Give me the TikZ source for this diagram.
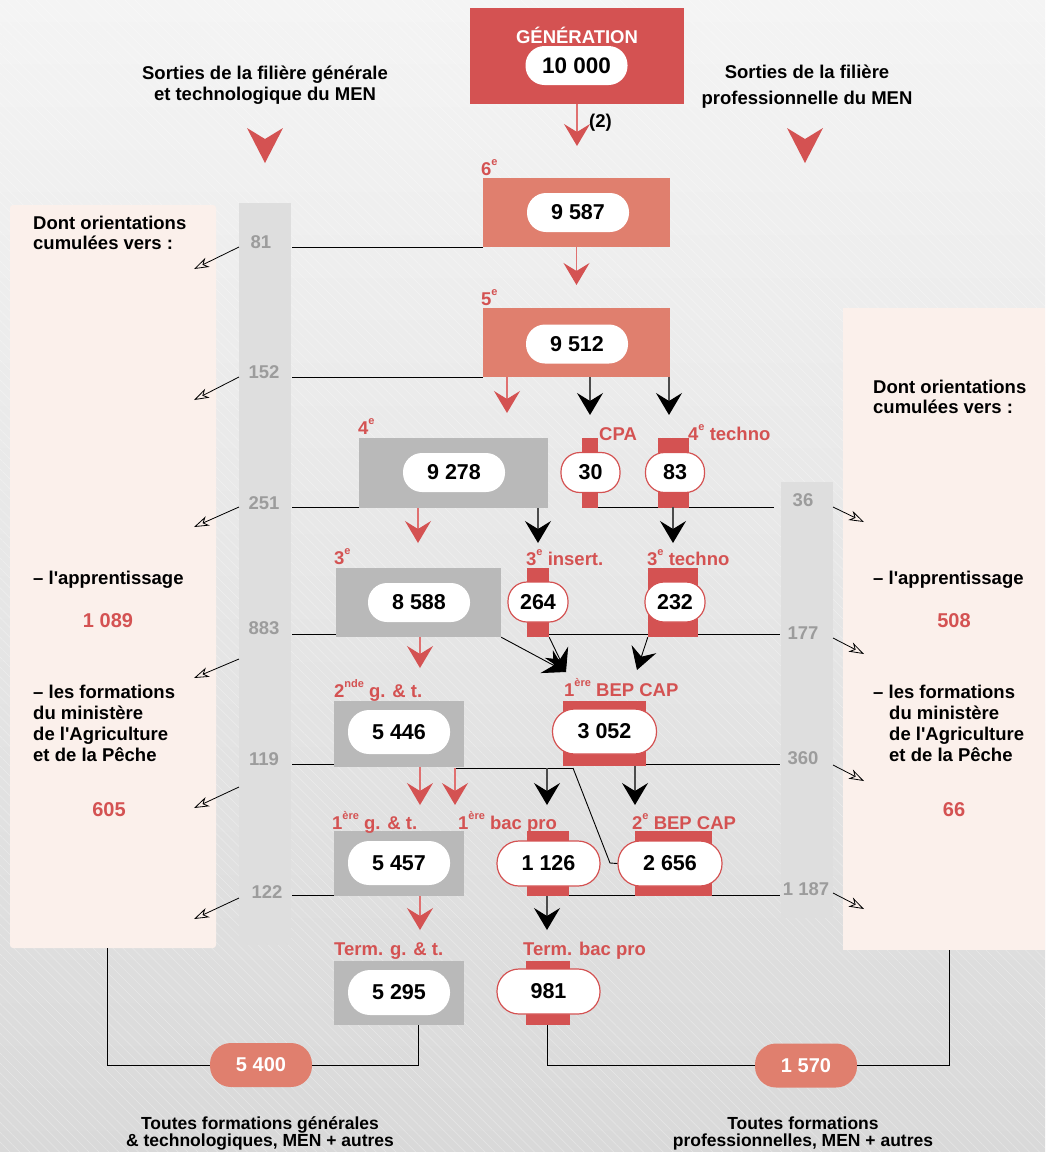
\documentclass[tikz,border=0pt]{standalone}
\usepackage{fontspec}
\setmainfont{Liberation Sans}[Ligatures=TeXOff]
\usetikzlibrary{arrows.meta,patterns.meta}
\definecolor{rouge}{HTML}{D45252}
\definecolor{rougeclair}{HTML}{E07070}
\definecolor{saumon}{HTML}{E07F6E}
\definecolor{grisbox}{HTML}{B9B9B9}
\definecolor{griscol}{HTML}{DEDEDE}
\definecolor{grisnum}{HTML}{9C9C9C}
\definecolor{rose}{HTML}{FBF0EB}
\definecolor{bgtop}{HTML}{F4F4F4}
\definecolor{bgbot}{HTML}{D9D9D9}
\newcommand\supx[1]{\raisebox{0.5em}{\fontsize{11}{11}\selectfont #1}}
\begin{document}
\begin{tikzpicture}[x=1pt,y=-1pt,
  txt/.style={font=\bfseries\fontsize{18.5}{20.5}\selectfont, inner sep=0pt},
  num/.style={font=\bfseries\fontsize{21.5}{24}\selectfont},
  rbox/.style={fill=#1, inner sep=0pt, draw=none},
  pillw/.style={fill=white, rounded corners=19pt, inner sep=0pt, num, minimum width=102pt, minimum height=39pt},
  pillr/.style={pillw, draw=rouge, line width=1.2pt},
  lab/.style={txt, text=rouge, anchor=base west},
  gnum/.style={txt, text=grisnum},
  rval/.style={font=\bfseries\fontsize{20}{24}\selectfont, text=rouge, inner sep=0pt},
  thinl/.style={draw=black, line width=0.9pt},
  arrR/.style={draw=rougeclair, line width=1.3pt, -{Stealth[length=22pt, width=26pt, inset=8pt, color=rouge]}},
  arrB/.style={draw=black!70, line width=1.3pt, -{Stealth[length=22pt, width=26pt, inset=8pt, color=black]}},
  orient/.style={draw=black, line width=0.8pt, -{Stealth[open, length=15pt, width=10pt, inset=4.5pt]}},
  sumpill/.style={fill=saumon, rounded corners=21pt, inner sep=0pt, minimum width=102pt, minimum height=44pt, text=white, font=\bfseries\fontsize{20}{24}\selectfont},
  foot/.style={txt, font=\bfseries\fontsize{17.5}{17}\selectfont},
]
\useasboundingbox (0,0) rectangle (1045,1152);
% background
\shade[shading angle=-45, top color=bgtop, bottom color=bgbot] (0,0) rectangle (1045,1152);
\fill[pattern={Lines[angle=-45,distance=7pt,line width=0.5pt]}, pattern color=white, opacity=0.35] (0,0) rectangle (1045,1152);

% side panels and columns
\fill[rose, rounded corners=3pt] (10,205) rectangle (216,948);
\fill[rose] (843,308) rectangle (1045,950);
\fill[griscol] (239,203) rectangle (291,945);
\fill[griscol] (781,482) rectangle (833,918);

% headers
\node[txt, align=center] (hl) at (265,85) {Sorties de la filière générale\\et technologique du MEN};
\node[txt, align=center, font=\bfseries\fontsize{18.5}{26}\selectfont] (hr) at (807,87) {Sorties de la filière\\professionnelle du MEN};
\fill[rouge] (247,128) -- (265,139) -- (283,128) -- (265,163) -- cycle;
\fill[rouge] (787,128) -- (805,139) -- (823,128) -- (805,163) -- cycle;

% panel texts
\node[txt, align=left, anchor=north west] (dl) at (33,215.5) {Dont orientations\\cumulées vers :};
\node[txt, align=left, anchor=north west] (dr) at (873,379.5) {Dont orientations\\cumulées vers :};
\node[txt, anchor=north west] (al) at (33,570.5) {– l'apprentissage};
\node[txt, anchor=north west] (ar) at (873,570.5) {– l'apprentissage};
\node[rval] (v1089) at (108,621) {1 089};
\node[rval] (v508) at (954,621) {508};
\node[txt, align=left, anchor=north west, font=\bfseries\fontsize{18.5}{21}\selectfont] (fl) at (33,684.5) {– les formations\\du ministère\\de l'Agriculture\\et de la Pêche};
\node[txt, align=left, anchor=north west, font=\bfseries\fontsize{18.5}{21}\selectfont] (fr) at (873,685) {– les formations\\\hspace*{16pt}du ministère\\\hspace*{16pt}de l'Agriculture\\\hspace*{16pt}et de la Pêche};
\node[rval] (v605) at (109,810) {605};
\node[rval] (v66) at (954,810) {66};

% column numbers
\node[gnum] (g81) at (261,242) {81};
\node[gnum] (g152) at (264,372) {152};
\node[gnum] (g251) at (264,503) {251};
\node[gnum] (g883) at (264,628) {883};
\node[gnum] (g119) at (264,759) {119};
\node[gnum] (g122) at (267,892) {122};
\node[gnum] (g36) at (803,500) {36};
\node[gnum] (g177) at (803,633) {177};
\node[gnum] (g360) at (803,758) {360};
\node[gnum] (g1187) at (806,889) {1 187};

% orientation arrows
\draw[orient] (239,247) -- (194,269);
\draw[orient] (239,377) -- (194,400);
\draw[orient] (239,507) -- (194,527);
\draw[orient] (239,659) -- (194,678);
\draw[orient] (239,787) -- (194,808);
\draw[orient] (239,898) -- (194,919);
\draw[orient] (833,507) -- (864,522);
\draw[orient] (833,638) -- (864,654);
\draw[orient] (833,765) -- (864,781);
\draw[orient] (833,893) -- (864,909);

% horizontal exit lines
\draw[thinl] (292,247) -- (483,247);
\draw[thinl] (292,377) -- (483,377);
\draw[thinl] (292,507) -- (359,507);
\draw[thinl] (598,507) -- (774,507);
\draw[thinl] (292,634) -- (336,634);
\draw[thinl] (549,634) -- (780,634);
\draw[thinl] (292,764) -- (334,764);
\draw[thinl] (646,764) -- (780,764);
\draw[thinl] (292,895) -- (334,895);
\draw[thinl] (569,895) -- (780,895);

% boxes
\node[rbox=rouge, minimum width=214pt, minimum height=96pt] (gen) at (577,56) {};
\node[txt, text=white] (gentxt) at (577,35) {GÉNÉRATION};
\node[pillw, font=\bfseries\fontsize{22.5}{24}\selectfont] (p10000) at (576.5,65.5) {10 000};

\node[rbox=saumon, minimum width=187pt, minimum height=69pt] (b6) at (576.5,212.5) {};
\node[pillw] (p9587) at (578,212.5) {9 587};
\node[lab] (l6) at (481,175) {6\supx{e}};

\node[rbox=saumon, minimum width=187pt, minimum height=69pt] (b5) at (576.5,342.5) {};
\node[pillw] (p9512) at (577,344) {9 512};
\node[lab] (l5) at (481,305) {5\supx{e}};

\node[rbox=grisbox, minimum width=189pt, minimum height=70pt] (b4) at (453.5,473) {};
\node[pillw] (p9278) at (454,472.5) {9 278};
\node[lab] (l4) at (358,434) {4\supx{e}};

\node[rbox=rouge, minimum width=16pt, minimum height=70pt] (bcpa) at (590,473) {};
\node[pillr, minimum width=59pt, minimum height=40pt] (p30) at (590.5,472.5) {30};
\node[lab] (lcpa) at (599,440) {CPA};

\node[rbox=rouge, minimum width=31pt, minimum height=70pt] (b4t) at (673.5,473) {};
\node[pillr, minimum width=59pt, minimum height=40pt] (p83) at (675,472.5) {83};
\node[lab] (l4t) at (688,440) {4\supx{e} techno};

\node[rbox=grisbox, minimum width=165pt, minimum height=69pt] (b3) at (418.5,602.5) {};
\node[pillw] (p8588) at (419,602.5) {8 588};
\node[lab] (l3) at (334,564) {3\supx{e}};

\node[rbox=rouge, minimum width=22pt, minimum height=69pt] (b3i) at (538,602.5) {};
\node[pillr, minimum width=60pt, minimum height=40pt] (p264) at (538,602) {264};
\node[lab] (l3i) at (526,565) {3\supx{e} insert.};

\node[rbox=rouge, minimum width=50pt, minimum height=69pt] (b3t) at (673,602.5) {};
\node[pillr, minimum width=60pt, minimum height=40pt] (p232) at (675,602) {232};
\node[lab] (l3t) at (647,565) {3\supx{e} techno};

\node[rbox=grisbox, minimum width=130pt, minimum height=66pt] (b2) at (399,734) {};
\node[pillw, minimum height=44pt, rounded corners=21pt] (p5446) at (399,732) {5 446};
\node[lab] (l2) at (334,697) {2\supx{nde} g. \& t.};

\node[rbox=rouge, minimum width=83pt, minimum height=65pt] (bbep1) at (604.5,733.5) {};
\node[pillr, minimum width=104pt, minimum height=45pt, rounded corners=22pt] (p3052) at (604.5,731.5) {3 052};
\node[lab] (lbep1) at (564,696) {1\supx{ère} BEP CAP};

\node[rbox=grisbox, minimum width=130pt, minimum height=65pt] (b1g) at (399,863.5) {};
\node[pillw, minimum height=44pt, rounded corners=21pt] (p5457) at (399,863) {5 457};
\node[lab] (l1g) at (332,829) {1\supx{ère} g. \& t.};

\node[rbox=rouge, minimum width=42pt, minimum height=65pt] (bpro1) at (548,863.5) {};
\node[pillr, minimum width=103pt, minimum height=45pt, rounded corners=22pt] (p1126) at (548.5,863.5) {1 126};
\node[lab] (lpro1) at (458,829) {1\supx{ère} bac pro};

\node[rbox=rouge, minimum width=77pt, minimum height=65pt] (bbep2) at (673.5,863.5) {};
\node[pillr, minimum width=104pt, minimum height=45pt, rounded corners=22pt] (p2656) at (670,863.5) {2 656};
\node[lab] (lbep2) at (632,829) {2\supx{e} BEP CAP};

\node[rbox=grisbox, minimum width=130pt, minimum height=64pt] (btg) at (399,993) {};
\node[pillw, minimum height=45pt, rounded corners=22pt] (p5295) at (399,992.5) {5 295};
\node[lab] (ltg) at (334,955) {Term. g. \& t.};

\node[rbox=rouge, minimum width=44pt, minimum height=64pt] (btp) at (548,993) {};
\node[pillr, minimum width=103pt, minimum height=45pt, rounded corners=22pt] (p981) at (548.5,991.5) {981};
\node[lab] (ltp) at (523,955) {Term. bac pro};

% flow arrows
\draw[arrR] (gen.south) -- (577,146);
\node[txt, anchor=west] (n2) at (589,123) {(2)};
\draw[arrR] (b6.south) -- (576.5,285);
\draw[arrR] (507,377) -- (507,413);
\draw[arrB] (590,377) -- (590,415);
\draw[arrB] (669,377) -- (669,415);
\draw[arrR] (418,508) -- (418,543);
\draw[arrB] (538,508) -- (538,543);
\draw[arrB] (673,507) -- (673,543);
\draw[arrR] (420,637) -- (420,668);
\draw[thinl, -{Stealth[length=22pt, width=26pt, inset=8pt]}] (b3.south east) -- (566,672);
\draw[thinl, -{Stealth[length=22pt, width=26pt, inset=8pt]}] (b3i.south east) -- (566,672);
\draw[thinl, -{Stealth[length=22pt, width=26pt, inset=8pt]}] (b3t.south west) -- (637,670);
\draw[arrR] (420,767) -- (420,805);
\draw[thinl] (573,768) -- (455,768);
\draw[arrR] (455,768) -- (455,805);
\draw[arrB] (547,768) -- (547,805);
\draw[thinl] (573,768) -- (610,863) -- (p2656.west);
\draw[arrB] (635,766) -- (635,805);
\draw[arrR] (420,896) -- (420,930);
\draw[arrB] (547,896) -- (547,930);

% totals
\node[sumpill] (p5400) at (261,1065) {5 400};
\node[sumpill] (p1570) at (806,1065.5) {1 570};
\draw[thinl] (107,948) |- (p5400.west);
\draw[thinl] (btg.south -| 418,0) |- (p5400.east);
\draw[thinl] (btp.south -| 547,0) |- (p1570.west);
\draw[thinl] (949,950) |- (p1570.east);

\node[foot, align=center] (tl) at (260,1133) {Toutes formations générales\\\& technologiques, MEN + autres};
\node[foot, align=center] (tr) at (803,1133) {Toutes formations\\professionnelles, MEN + autres};
\end{tikzpicture}
\end{document}
